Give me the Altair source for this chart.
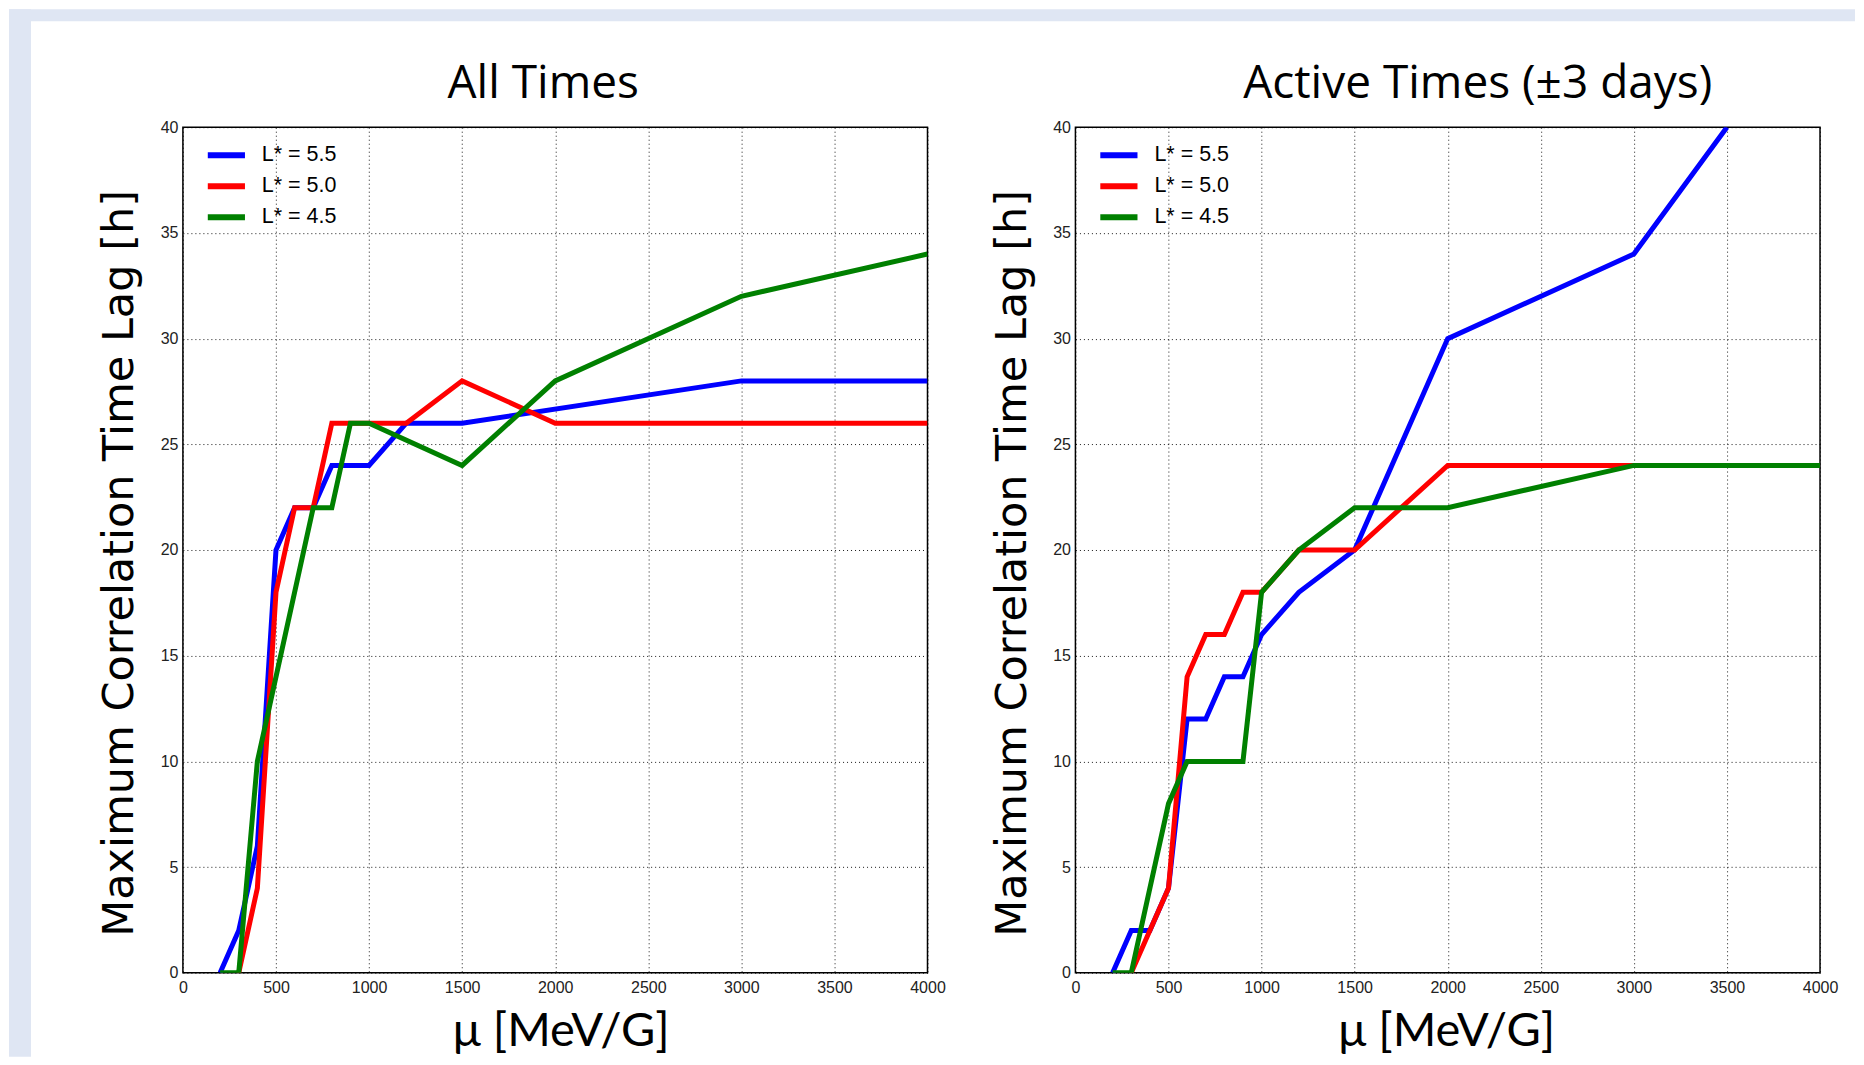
import altair as alt
import pandas as pd

SERIES = ["L* = 5.5", "L* = 5.0", "L* = 4.5"]
COLORS = ["#0000ff", "#ff0000", "#008000"]
X_TICKS = [0, 500, 1000, 1500, 2000, 2500, 3000, 3500, 4000]
Y_TICKS = [0, 5, 10, 15, 20, 25, 30, 35, 40]

# ---- All Times ----
all_blue_mu = [200, 300, 400, 500, 600, 700, 800, 1000, 1200, 1500, 3000, 4000]
all_blue_lag = [0, 2, 6, 20, 22, 22, 24, 24, 26, 26, 28, 28]
all_red_mu = [300, 400, 500, 600, 700, 800, 1200, 1500, 2000, 4000]
all_red_lag = [0, 4, 18, 22, 22, 26, 26, 28, 26, 26]
all_green_mu = [200, 300, 400, 700, 800, 900, 1000, 1500, 2000, 3000, 4000]
all_green_lag = [0, 0, 10, 22, 22, 26, 26, 24, 28, 32, 34]

# ---- Active Times (±3 days) ----
act_blue_mu = [200, 300, 400, 500, 600, 700, 800, 900, 1000, 1200, 1500, 2000, 3000, 3500]
act_blue_lag = [0, 2, 2, 4, 12, 12, 14, 14, 16, 18, 20, 30, 34, 40]
act_red_mu = [300, 500, 600, 700, 800, 900, 1000, 1200, 1500, 2000, 3000, 4000]
act_red_lag = [0, 4, 14, 16, 16, 18, 18, 20, 20, 24, 24, 24]
act_green_mu = [200, 300, 500, 600, 900, 1000, 1200, 1500, 2000, 3000, 4000]
act_green_lag = [0, 0, 8, 10, 10, 18, 20, 22, 22, 24, 24]

BG = "#dfe6f3"
W, H = 745, 846


def frame(pairs):
    rows = []
    for name, (mus, lags) in zip(SERIES, pairs):
        for m, l in zip(mus, lags):
            rows.append({"mu": m, "lag": l, "series": name})
    return pd.DataFrame(rows)


df_all = frame([(all_blue_mu, all_blue_lag), (all_red_mu, all_red_lag), (all_green_mu, all_green_lag)])
df_act = frame([(act_blue_mu, act_blue_lag), (act_red_mu, act_red_lag), (act_green_mu, act_green_lag)])

X_SCALE = alt.Scale(domain=[0, 4000], nice=False)
Y_SCALE = alt.Scale(domain=[0, 40], nice=False)


def panel(df, title, title_x, xtitle_x, strips=False):
    x_axis = alt.Axis(values=X_TICKS, format="d", title="μ [MeV/G]",
                      labelFont="Liberation Sans", labelFontSize=16, labelColor="#222",
                      labelPadding=7, labelFlush=False, labelOverlap=False,
                      ticks=False, domain=False,
                      grid=True, gridColor="black", gridDash=[1, 3], gridWidth=1, gridOpacity=0.9,
                      titleFont="Lato", titleFontSize=47, titleFontWeight="normal",
                      titleColor="black", titleX=xtitle_x, titleY=73,
                      titleBaseline="alphabetic", titleAlign="center")
    y = alt.Y("lag:Q", scale=Y_SCALE,
              axis=alt.Axis(values=Y_TICKS, format="d", title="Maximum Correlation Time Lag [h]",
                            labelFont="Liberation Sans", labelFontSize=16, labelColor="#222",
                            labelPadding=5, labelFlush=False, labelOverlap=False,
                            ticks=False, domain=False,
                            grid=True, gridColor="black", gridDash=[1, 3], gridWidth=1, gridOpacity=0.9,
                            titleFont="DejaVu Sans", titleFontSize=43, titleFontWeight="normal",
                            titleColor="black", titleAngle=270, titleX=-50, titleY=436,
                            titleBaseline="alphabetic", titleAlign="center"))
    color = alt.Color("series:N", scale=alt.Scale(domain=SERIES, range=COLORS),
                      legend=alt.Legend(title=None, orient="none", legendX=25, legendY=9.6,
                                        symbolType="M-1.2,0H1.2", symbolSize=961,
                                        symbolStrokeWidth=6,
                                        labelFont="Liberation Sans", labelFontSize=21.5,
                                        labelColor="black", rowPadding=0, labelOffset=17,
                                        padding=0))
    layers = []
    if strips:
        layers.append(alt.Chart(alt.Data(values=[{}])).mark_rect(color=BG).encode(
            x=alt.value(-174), x2=alt.value(-152), y=alt.value(-118), y2=alt.value(930)))
        layers.append(alt.Chart(alt.Data(values=[{}])).mark_rect(color=BG).encode(
            x=alt.value(-174), x2=alt.value(1673), y=alt.value(-118), y2=alt.value(-106)))
    # panel title carried by a top axis
    layers.append(
        alt.Chart(alt.Data(values=[{"mu": 0}])).mark_point(opacity=0, size=1).encode(
            x=alt.X("mu:Q", scale=X_SCALE,
                    axis=alt.Axis(orient="top", labels=False, ticks=False, domain=False, grid=False,
                                  title=title, titleFont="Open Sans", titleFontSize=46,
                                  titleFontWeight="normal", titleColor="black",
                                  titleX=title_x, titleY=-30, titleBaseline="alphabetic",
                                  titleAlign="center")))
    )
    for i, s in enumerate(SERIES):
        x = alt.X("mu:Q", scale=X_SCALE, axis=x_axis if i == 0 else None)
        layers.append(
            alt.Chart(df).transform_filter(alt.datum.series == s)
            .mark_line(strokeWidth=5, clip=True)
            .encode(x=x, y=y, color=color)
        )
    return alt.layer(*layers).resolve_axis(x="independent").properties(width=W, height=H)


left = panel(df_all, "All Times", 360, 378, strips=True)
right = panel(df_act, "Active Times (±3 days)", 402, 371)

chart = alt.hconcat(left, right, spacing=148, bounds="flush").resolve_scale(
    color="independent").resolve_legend(color="independent").configure_view(
    stroke="black", strokeWidth=1.5).properties(padding=0, background="white")

chart.save("out.html", embed_options={"renderer": "svg", "actions": False})
